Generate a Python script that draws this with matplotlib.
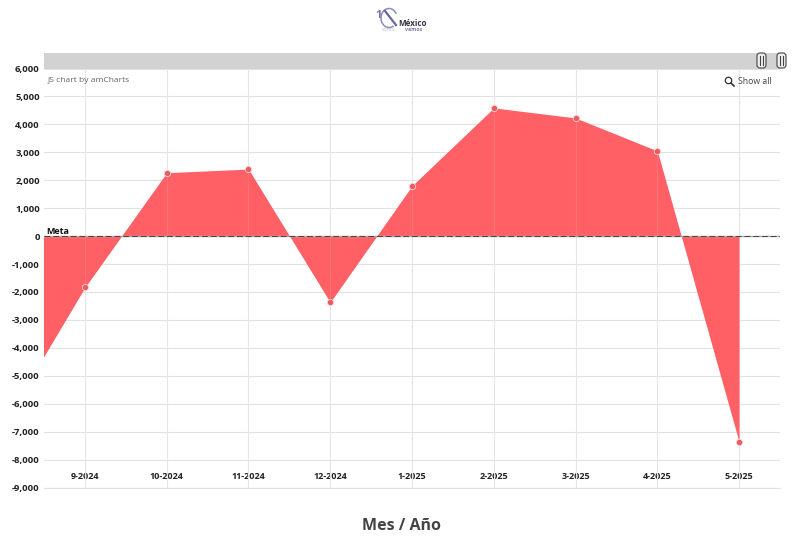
import matplotlib
matplotlib.use( 'Agg') # no display
import matplotlib.pyplot as plt
from matplotlib.patches import Rectangle, FancyBboxPatch, Circle, Arc

plt.rcParams[ 'font.family'] = [ 'Open Sans', 'DejaVu Sans']

# first point sits left of the visible range, the scrollbar cuts it off
months = [ '8-2024', '9-2024', '10-2024', '11-2024', '12-2024', '1-2025', '2-2025', '3-2025', '4-2025', '5-2025']
values = [ -6760, -1840, 2270, 2400, -2370, 1800, 4590, 4230, 3050, -7370]
y_ticks = [ 6000, 5000, 4000, 3000, 2000, 1000, 0, -1000, -2000, -3000, -4000, -5000, -6000, -7000, -8000, -9000]
meta = 0

RED = '#ff6066'
GRID = '#e2e2e2'

fig = plt.figure( figsize = ( 8, 5.47), dpi = 100)
ax = fig.add_axes( [ 44 / 800, 1 - 487.5 / 547, 736 / 800, 419 / 547])

x = list( range( -1, len( months) - 1))
ax.set_xlim( -0.5, 8.5)
ax.set_ylim( -9000, 6000)

ax.fill_between( x, values, meta, color = RED, linewidth = 0, zorder = 2)
ax.plot( x[ 1:], values[ 1:], linestyle = 'none', marker = 'o', markersize = 4.5,
         markerfacecolor = '#ec5a62', markeredgecolor = '#f9d5d6', markeredgewidth = 0.6, zorder = 5)

# grid, the vertical ones show faintly through the fill
ax.set_yticks( y_ticks)
ax.set_yticklabels( [ f'{ v:,}' for v in y_ticks], fontsize = 6.8, fontweight = 'bold', color = '#222222')
ax.set_xticks( x[ 1:])
ax.set_xticklabels( months[ 1:], fontsize = 6.5, fontweight = 'bold', color = '#222222')
ax.tick_params( axis = 'both', length = 0)
ax.tick_params( axis = 'x', pad = -11)
ax.tick_params( axis = 'y', pad = 3)
ax.grid( axis = 'y', color = GRID, linewidth = 0.8, zorder = 1)
ax.set_axisbelow( True)
for tick in x[ 1:]:
   ax.axvline( tick, color = GRID, linewidth = 0.8, zorder = 1)
   ax.axvline( tick, color = '#ffffff', alpha = 0.12, linewidth = 0.8, zorder = 4)

for side in [ 'top', 'right', 'left']:
   ax.spines[ side].set_visible( False)
ax.spines[ 'bottom'].set_color( GRID)

ax.axhline( meta, color = '#aaaaaa', linewidth = 1, zorder = 5)
ax.axhline( meta, color = '#444444', linewidth = 0.7, dashes = ( 6, 3), zorder = 6)
ax.text( -0.47, meta + 180, 'Meta', fontsize = 6.5, fontweight = 'bold', color = '#111111', va = 'center', zorder = 7)

# scrollbar, logo and other page furniture, placed in pixels
top = fig.add_axes( [ 0, 0, 1, 1], facecolor = 'none')
top.set_xlim( 0, 800)
top.set_ylim( 547, 0)
top.axis( 'off')

top.add_patch( Rectangle( ( 44, 53), 736, 16, facecolor = '#d2d2d2', edgecolor = 'none'))
for grip in [ 761.5, 781.5]:
   top.add_patch( FancyBboxPatch( ( grip - 4.5, 53), 9, 15, boxstyle = 'round,pad=0,rounding_size=3',
                                  facecolor = '#efefef', edgecolor = '#555555', linewidth = 0.9))
   top.plot( [ grip - 1.3, grip - 1.3], [ 56, 65], color = '#444444', linewidth = 0.8)
   top.plot( [ grip + 1.3, grip + 1.3], [ 56, 65], color = '#444444', linewidth = 0.8)

top.text( 48, 81, 'JS chart by amCharts', fontsize = 6.1, color = '#666666', va = 'center')
top.text( 738, 81, 'Show all', fontsize = 6.3, color = '#444444', va = 'center')
top.add_patch( Circle( ( 728.5, 80.5), 3.2, facecolor = 'none', edgecolor = '#333333', linewidth = 0.9))
top.plot( [ 731, 734], [ 83, 86], color = '#333333', linewidth = 1.2)

top.text( 402, 525.5, 'Mes / Año', fontsize = 11.5, fontweight = 'bold', color = '#444444', ha = 'center', va = 'center')

# logo
top.text( 379, 16, '1', fontsize = 8, fontweight = 'bold', color = '#7576ad', ha = 'center', va = 'center')
top.add_patch( Arc( ( 389, 18), 16, 19, theta1 = 60, theta2 = 330, edgecolor = '#8a8bbb', linewidth = 1.1))
top.plot( [ 385, 396], [ 11, 25], color = '#6667a5', linewidth = 1.6)
top.text( 412.5, 23.5, 'México', fontsize = 5.8, fontweight = 'bold', color = '#333344', ha = 'center', va = 'center')
top.text( 382, 29.5, 'como', fontsize = 3.8, color = '#b9b9d4', ha = 'left', va = 'center')
top.text( 405, 29.5, 'vamos', fontsize = 3.8, fontweight = 'bold', color = '#7c7ca8', ha = 'left', va = 'center')

plt.savefig( 'out.png', dpi = 100)
